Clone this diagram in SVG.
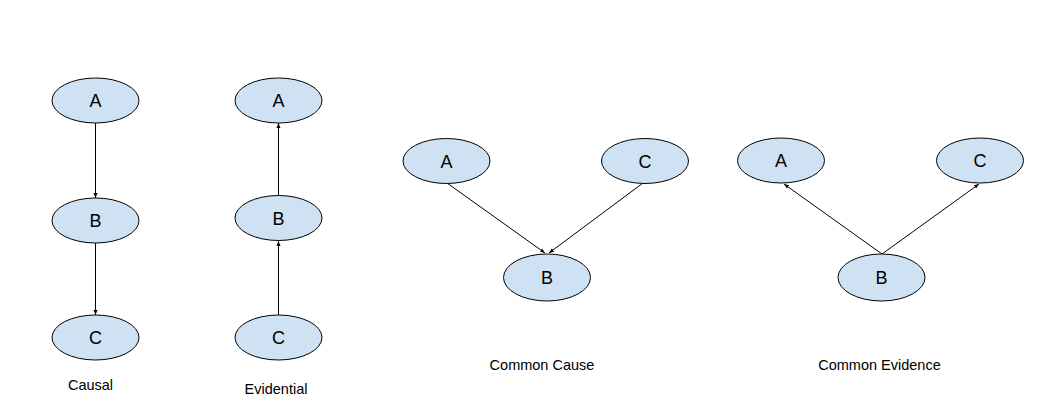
<svg xmlns="http://www.w3.org/2000/svg" width="1060" height="410" viewBox="0 0 1060 410">
<defs>
<marker id="arr" viewBox="0 0 10 10" refX="10" refY="5" markerWidth="5" markerHeight="5" orient="auto" markerUnits="userSpaceOnUse">
<path d="M0,1 L10,5 L0,9 z" fill="#000"/>
</marker>
<style>
.n ellipse{fill:#cfe2f3;stroke:#000;stroke-width:1}
.n text{font-family:"Liberation Sans",Arial,sans-serif;font-size:18px;text-anchor:middle;fill:#000}
.lbl{font-family:"Liberation Sans",Arial,sans-serif;font-size:14.5px;text-anchor:middle;fill:#000}
.e line{stroke:#000;stroke-width:1;marker-end:url(#arr)}
</style>
</defs>
<rect width="1060" height="410" fill="#fff"/>
<g id="connectors" class="e">
<line x1="95.5" y1="123" x2="95.5" y2="198"/>
<line x1="95.5" y1="243" x2="95.5" y2="315"/>
<line x1="278.5" y1="195" x2="278.5" y2="123"/>
<line x1="278.5" y1="315" x2="278.5" y2="241"/>
<line x1="447" y1="183" x2="545" y2="253"/>
<line x1="643" y1="183" x2="549" y2="253"/>
<line x1="882" y1="254" x2="784" y2="184"/>
<line x1="882" y1="254" x2="979" y2="184"/>
</g>
<g id="causal-A" class="n"><ellipse cx="95.5" cy="100.5" rx="43.5" ry="22.5"/><text x="95.5" y="107">A</text></g>
<g id="causal-B" class="n"><ellipse cx="95.5" cy="220.5" rx="43.5" ry="22.5"/><text x="95.5" y="227">B</text></g>
<g id="causal-C" class="n"><ellipse cx="95.5" cy="337.5" rx="43.5" ry="22.5"/><text x="95.5" y="344">C</text></g>
<text id="label-causal" class="lbl" x="90.5" y="390">Causal</text>
<g id="evid-A" class="n"><ellipse cx="278.5" cy="100.5" rx="43.5" ry="22.5"/><text x="278.5" y="107">A</text></g>
<g id="evid-B" class="n"><ellipse cx="278.5" cy="218" rx="43.5" ry="22.5"/><text x="278.5" y="224.5">B</text></g>
<g id="evid-C" class="n"><ellipse cx="278.5" cy="337.5" rx="43.5" ry="22.5"/><text x="278.5" y="344">C</text></g>
<text id="label-evidential" class="lbl" x="276" y="394">Evidential</text>
<g id="cc-A" class="n"><ellipse cx="446.5" cy="161" rx="43.5" ry="22.5"/><text x="446.5" y="167.5">A</text></g>
<g id="cc-C" class="n"><ellipse cx="645" cy="161" rx="43.5" ry="22.5"/><text x="645" y="167.5">C</text></g>
<g id="cc-B" class="n"><ellipse cx="547" cy="277.5" rx="43.5" ry="23.5"/><text x="547" y="284">B</text></g>
<text id="label-common-cause" class="lbl" x="542" y="370">Common Cause</text>
<g id="ce-A" class="n"><ellipse cx="781" cy="160.5" rx="43.5" ry="22.5"/><text x="781" y="167">A</text></g>
<g id="ce-C" class="n"><ellipse cx="980" cy="160.5" rx="43.5" ry="22.5"/><text x="980" y="167">C</text></g>
<g id="ce-B" class="n"><ellipse cx="881.5" cy="277.5" rx="43.5" ry="23.5"/><text x="881.5" y="284">B</text></g>
<text id="label-common-evidence" class="lbl" x="879.5" y="370">Common Evidence</text>
</svg>
